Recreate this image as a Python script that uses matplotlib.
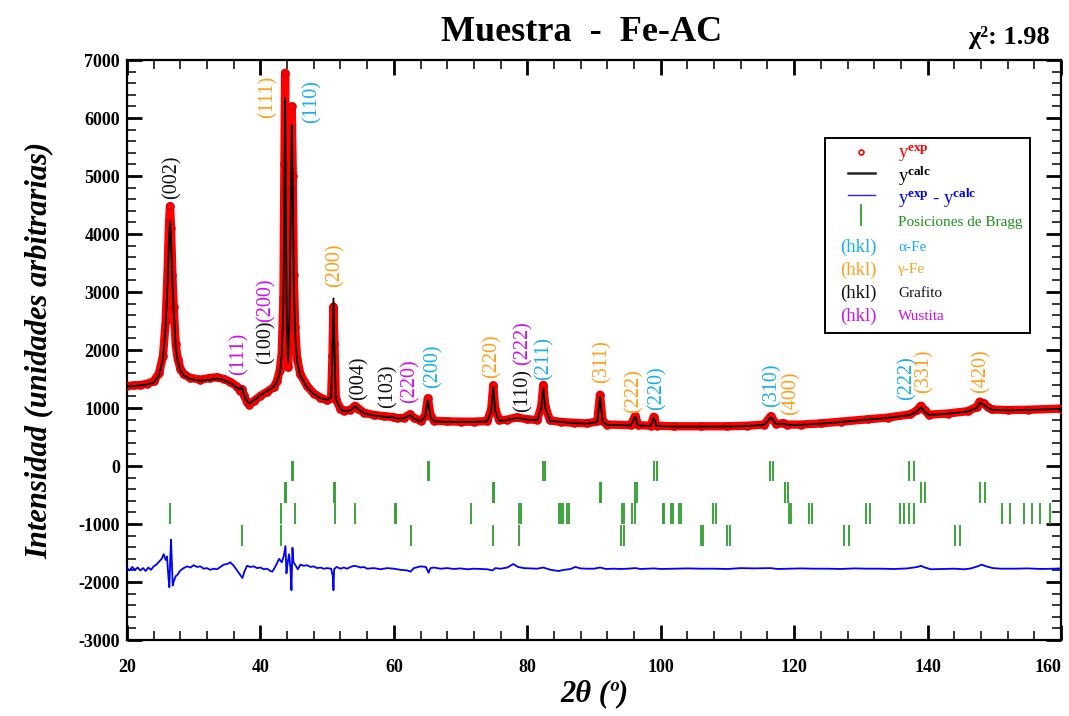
import matplotlib
matplotlib.use("Agg")
import matplotlib.pyplot as plt
from matplotlib.ticker import MultipleLocator
from matplotlib.lines import Line2D
from matplotlib.patches import Rectangle

plt.rcParams['font.family'] = ['Liberation Serif', 'DejaVu Serif']
plt.rcParams['mathtext.fontset'] = 'custom'
plt.rcParams['mathtext.rm'] = 'Liberation Serif'
plt.rcParams['mathtext.it'] = 'Liberation Serif:italic'
plt.rcParams['mathtext.bf'] = 'Liberation Serif:bold'
plt.rcParams['axes.unicode_minus'] = False

# ---------------- data ----------------
two_theta = [20.0, 21.0, 22.0, 23.0, 24.0, 24.8, 25.4, 25.8, 26.1, 26.3,
             26.45, 26.6, 26.8, 27.0, 27.3, 27.6, 28.0, 28.5, 29.5, 31.0,
             32.5, 33.5, 34.5, 35.5, 36.5, 37.0, 37.2, 37.5, 38.0, 38.3,
             39.0, 40.0, 41.0, 42.0, 42.5, 42.9, 43.2, 43.45, 43.6, 43.7,
             43.8, 43.95, 44.15, 44.35, 44.55, 44.7, 44.85, 45.0, 45.2, 45.5,
             46.0, 47.0, 48.0, 49.0, 50.0, 50.6, 50.8, 50.95, 51.1, 51.3,
             52.0, 52.5, 53.5, 54.2, 54.7, 55.5, 57.0, 58.5, 59.8, 60.5,
             61.5, 62.4, 63.0, 64.0, 64.7, 65.1, 65.5, 66.0, 68.0, 70.0,
             72.0, 74.0, 74.6, 74.9, 75.2, 75.8, 77.0, 78.4, 80.0, 81.5,
             82.1, 82.4, 82.7, 83.4, 85.0, 87.0, 89.0, 90.5, 90.9, 91.3,
             92.0, 95.5, 96.2, 96.6, 98.5, 98.95, 99.4, 102.0, 106.0, 110.0,
             113.0, 115.5, 116.5, 117.3, 118.4, 119.0, 121.0, 124.0, 127.0, 131.0,
             134.0, 137.4, 138.4, 139.0, 139.6, 140.2, 143.0, 146.0, 147.4, 147.8,
             148.4, 149.0, 149.6, 152.0, 155.0, 160.0]

y_calc = [1370, 1380, 1390, 1405, 1440, 1560, 1850, 2400, 3200, 3900,
          4213, 3900, 3200, 2700, 2050, 1800, 1650, 1560, 1500, 1470,
          1490, 1510, 1480, 1430, 1350, 1320, 1360, 1250, 1110, 1080,
          1130, 1220, 1290, 1370, 1450, 1600, 1900, 2800, 4800, 6340,
          4500, 2500, 1800, 2600, 4500, 5880, 4800, 3200, 2300, 1800,
          1550, 1360, 1240, 1170, 1140, 1180, 2000, 2890, 2000, 1150,
          980, 940, 960, 1030, 980, 910, 870, 850, 840, 820,
          820, 880, 820, 770, 850, 1140, 850, 770, 760, 760,
          760, 770, 950, 1360, 950, 780, 790, 830, 800, 790,
          1000, 1340, 1000, 780, 760, 740, 730, 760, 1200, 760,
          710, 700, 850, 700, 690, 830, 690, 680, 680, 680,
          690, 710, 840, 720, 730, 710, 710, 730, 760, 800,
          830, 880, 940, 1010, 940, 880, 900, 940, 1000, 1090,
          1060, 1010, 970, 960, 965, 985]

y_exp = [1380, 1390, 1395, 1420, 1460, 1600, 1900, 2500, 3400, 4200,
         4480, 4100, 3300, 2750, 2100, 1850, 1680, 1580, 1520, 1490,
         1520, 1530, 1500, 1450, 1370, 1300, 1330, 1230, 1100, 1060,
         1120, 1210, 1280, 1360, 1470, 1650, 1950, 2900, 5200, 6780,
         4700, 2400, 1700, 2500, 4800, 6200, 5000, 3300, 2400, 1850,
         1580, 1380, 1250, 1180, 1130, 1170, 1900, 2750, 2100, 1150,
         990, 950, 970, 1040, 990, 920, 880, 860, 845, 825,
         830, 890, 830, 780, 870, 1170, 870, 780, 770, 765,
         765, 775, 980, 1390, 980, 790, 800, 840, 805, 795,
         1030, 1400, 1030, 790, 760, 745, 735, 770, 1230, 770,
         715, 705, 870, 705, 695, 850, 695, 685, 685, 685,
         695, 715, 860, 725, 740, 715, 715, 735, 765, 805,
         835, 890, 960, 1040, 960, 885, 905, 945, 1020, 1110,
         1080, 1020, 975, 965, 970, 990]

diff_two_theta = [20.0, 20.4, 20.8, 21.2, 21.6, 22.0, 22.4, 22.8, 23.2, 23.6,
                  24.0, 24.4, 24.8, 25.2, 25.5, 25.8, 26.0, 26.2, 26.35, 26.5,
                  26.6, 26.7, 26.85, 27.0, 27.3, 27.6, 28.0, 28.5, 29.0, 29.5,
                  30.0, 30.5, 31.0, 31.5, 32.0, 32.5, 33.0, 33.5, 34.0, 34.5,
                  35.0, 35.5, 36.0, 36.5, 37.0, 37.3, 37.6, 38.0, 38.5, 39.0,
                  39.5, 40.0, 40.5, 41.0, 41.5, 41.8, 42.3, 42.8, 43.2, 43.5,
                  43.75, 43.9, 44.1, 44.3, 44.5, 44.65, 44.8, 44.95, 45.2, 45.6,
                  46.0, 46.5, 47.0, 47.5, 48.0, 48.5, 49.0, 49.5, 50.0, 50.6,
                  50.85, 50.95, 51.05, 51.4, 52.0, 52.5, 53.0, 53.5, 54.0, 54.5,
                  55.0, 55.5, 56.0, 57.0, 58.0, 59.0, 60.0, 61.0, 62.0, 62.5,
                  63.0, 64.0, 64.8, 65.2, 65.5, 66.0, 67.0, 68.0, 69.0, 70.0,
                  71.0, 72.0, 73.0, 74.0, 74.8, 75.2, 76.0, 77.0, 77.9, 78.6,
                  79.5, 80.5, 81.5, 82.4, 83.5, 84.7, 85.5, 86.5, 87.2, 88.0,
                  89.0, 90.0, 90.9, 91.8, 93.0, 94.0, 95.0, 96.2, 97.0, 98.0,
                  99.0, 100.0, 102.0, 104.0, 106.0, 108.0, 110.0, 112.0, 114.0, 116.5,
                  117.5, 119.0, 121.0, 123.0, 125.0, 127.0, 129.0, 131.0, 133.0, 135.0,
                  137.0, 138.5, 139.0, 139.6, 140.5, 142.0, 144.0, 145.5, 146.5, 147.5,
                  148.1, 148.8, 149.8, 151.0, 153.0, 155.0, 157.0, 159.0, 160.0]

diff_y = [-1760, -1800, -1740, -1790, -1750, -1800, -1760, -1810, -1750, -1790,
          -1730, -1700, -1650, -1600, -1520, -1620, -1560, -1900, -2090, -1550,
          -1270, -1600, -2060, -1990, -1900, -1870, -1800, -1760, -1730, -1750,
          -1710, -1740, -1730, -1770, -1760, -1790, -1770, -1780, -1740, -1700,
          -1690, -1660, -1720, -1800, -1880, -1930, -1820, -1720, -1740, -1730,
          -1760, -1750, -1780, -1770, -1810, -1820, -1720, -1600, -1660, -1550,
          -1380, -1850, -1650, -1520, -1760, -2140, -1410, -1660, -1700, -1780,
          -1700, -1720, -1710, -1740, -1730, -1760, -1750, -1770, -1760, -1770,
          -1900, -2140, -1780, -1740, -1770, -1750, -1770, -1740, -1720, -1730,
          -1750, -1740, -1770, -1760, -1780, -1760, -1770, -1790, -1800, -1820,
          -1760, -1730, -1740, -1840, -1760, -1750, -1770, -1760, -1775, -1765,
          -1780, -1770, -1775, -1780, -1800, -1760, -1770, -1750, -1690, -1740,
          -1760, -1765, -1770, -1750, -1790, -1810, -1790, -1775, -1740, -1765,
          -1770, -1770, -1750, -1775, -1770, -1775, -1770, -1760, -1775, -1770,
          -1765, -1775, -1770, -1765, -1770, -1770, -1775, -1760, -1765, -1760,
          -1775, -1770, -1765, -1770, -1770, -1775, -1765, -1770, -1770, -1775,
          -1765, -1740, -1720, -1750, -1780, -1775, -1770, -1780, -1765, -1730,
          -1700, -1730, -1760, -1770, -1770, -1765, -1775, -1770, -1765]

# Bragg positions (one row per phase)
bragg_alpha_fe = [44.7, 44.85, 65.1, 65.3, 82.33, 82.67, 99.06, 99.41,
                  116.4, 116.9, 137.2, 137.9]
bragg_gamma_fe = [43.7, 43.85, 51.0, 51.15, 74.8, 75.0, 90.9, 91.1, 96.2, 96.4,
                  118.6, 119.05, 139.0, 139.6, 147.8, 148.6]
bragg_grafito = [26.45, 43.1, 45.2, 51.2, 54.2, 60.1, 60.3, 71.5, 78.8, 79.0,
                 84.8, 85.0, 85.3, 85.9, 86.3, 94.25, 94.56, 95.7, 96.1,
                 100.3, 100.5, 101.5, 101.8, 102.7, 103.0, 107.9, 108.3,
                 119.2, 119.5, 122.3, 122.7, 130.7, 131.4, 135.9, 136.5,
                 137.2, 137.9, 151.1, 152.4, 154.4, 155.7, 156.9, 158.3]
bragg_wustita = [37.2, 43.1, 62.5, 74.9, 78.8, 94.1, 94.5, 106.0, 106.3,
                 110.0, 110.4, 127.5, 128.2, 144.1, 144.9]

# Peak labels: (text, phase, 2theta, intensity at label base)
peak_labels = [
    ("(002)", "graf", 26.75, 4600),
    ("(111)", "gam", 41.1, 6000),
    ("(110)", "alp", 47.8, 5910),
    ("(111)", "wus", 36.8, 1570),
    ("(100)", "graf", 40.9, 1760),
    ("(200)", "wus", 40.9, 2480),
    ("(200)", "gam", 51.25, 3090),
    ("(004)", "graf", 54.8, 1140),
    ("(103)", "graf", 59.05, 1000),
    ("(220)", "wus", 62.4, 1090),
    ("(200)", "alp", 65.8, 1345),
    ("(220)", "gam", 74.7, 1517),
    ("(110)", "graf", 79.3, 930),
    ("(222)", "wus", 79.3, 1740),
    ("(211)", "alp", 82.5, 1483),
    ("(311)", "gam", 91.15, 1430),
    ("(222)", "gam", 96.0, 914),
    ("(220)", "alp", 99.5, 966),
    ("(310)", "alp", 116.75, 1017),
    ("(400)", "gam", 119.5, 880),
    ("(222)", "alp", 136.9, 1138),
    ("(331)", "gam", 139.5, 1260),
    ("(420)", "gam", 148.0, 1260),
]

phase_colors = {"alp": "#1AAEEA", "gam": "#FF9F1A", "graf": "#111111", "wus": "#CC11EE"}
phase_names = [("alp", "\u03b1-Fe"), ("gam", "\u03b3-Fe"), ("graf", "Grafito"), ("wus", "Wustita")]

x_ticks = [20, 40, 60, 80, 100, 120, 140, 160]
y_ticks = [-3000, -2000, -1000, 0, 1000, 2000, 3000, 4000, 5000, 6000, 7000]

# ---------------- figure ----------------
fig = plt.figure(figsize=(10.69, 7.16), dpi=100)
ax = fig.add_axes([0.1188, 0.1061, 0.8737, 0.8101])

red = "#FF0000"
ax.plot(two_theta, y_exp, color=red, lw=6, solid_joinstyle='round', zorder=2)
ax.plot(two_theta, y_exp, linestyle='none', marker='o', ms=5, mfc='none',
        mec='#E00000', mew=1.2, zorder=3)
ax.plot(two_theta, y_calc, color='black', lw=1.3, zorder=4)
ax.plot(diff_two_theta, diff_y, color='#0000FF', lw=1.3, zorder=4)

bragg_green = "#2E9E2E"
rows = [(bragg_alpha_fe, 90, -260), (bragg_gamma_fe, -275, -640),
        (bragg_grafito, -640, -1000), (bragg_wustita, -1015, -1380)]
for pos, ytop, ybot in rows:
    ax.vlines(pos, ybot, ytop, color=bragg_green, lw=1.3, zorder=3)

for txt, ph, x, y in peak_labels:
    ax.text(x, y, txt, rotation=90, ha='center', va='bottom',
            color=phase_colors[ph], fontsize=14.5)

ax.set_xlim(20, 160)
ax.set_ylim(-3000, 7000)
ax.set_xticks(x_ticks)
ax.set_yticks(y_ticks)
ax.xaxis.set_minor_locator(MultipleLocator(4))
ax.yaxis.set_minor_locator(MultipleLocator(200))
ax.tick_params(which='major', direction='in', length=11, width=2.0,
               top=True, right=True, labelsize=13)
ax.tick_params(which='minor', direction='in', length=6.5, width=1.1,
               top=True, right=True)
ax.tick_params(axis='x', which='major', pad=14)
ax.tick_params(axis='y', which='major', pad=5)
for lab in ax.get_xticklabels() + ax.get_yticklabels():
    lab.set_fontweight('bold')
ax.get_xticklabels()[-1].set_ha('right')
for sp in ax.spines.values():
    sp.set_linewidth(1.6)

ax.set_xlabel("2\u03b8 (\u00ba)", fontsize=22, fontweight='bold', fontstyle='italic',
              labelpad=2)
ax.set_ylabel("Intensidad (unidades arbitrarias)", fontsize=22, fontweight='bold',
              fontstyle='italic', labelpad=18)

fig.text(0.5444, 1 - 41 / 716, "Muestra  -  Fe-AC", ha='center', va='baseline',
         fontsize=26, fontweight='bold')
fig.text(0.982, 1 - 44 / 716, "\u03c7\u00b2: 1.98", ha='right', va='baseline',
         fontsize=19, fontweight='bold')

# ---------------- legend (drawn by hand in axes coordinates) ----------------
T = ax.transAxes
ax.add_patch(Rectangle((0.747, 0.5293), 0.220, 0.3362, transform=T,
                       facecolor='white', edgecolor='black', lw=1.4, zorder=6))
tx = 0.8255
ax.add_line(Line2D([0.786], [0.8414], transform=T, marker='o', ms=3.5, mfc='white',
                   mec=red, mew=1.2, zorder=7))
ax.text(tx, 0.8380, r"$\mathrm{y^{\mathbf{exp}}}$", transform=T, color=red,
        fontsize=13.5, va='center', zorder=7)
ax.add_line(Line2D([0.772, 0.801], [0.805, 0.805], transform=T, color='#222222',
                   lw=1.8, zorder=7))
ax.text(tx, 0.8000, r"$\mathrm{y^{\mathbf{calc}}}$", transform=T, color='black',
        fontsize=13.5, va='center', zorder=7)
ax.add_line(Line2D([0.772, 0.801], [0.767, 0.767], transform=T, color='#2222FF',
                   lw=1.0, zorder=7))
ax.text(tx, 0.7610, r"$\mathrm{y^{\mathbf{exp}}}$ - $\mathrm{y^{\mathbf{calc}}}$",
        transform=T, color='#0000FF', fontsize=13.5, va='center', zorder=7)
ax.add_line(Line2D([0.786, 0.786], [0.716, 0.750], transform=T, color=bragg_green,
                   lw=1.3, zorder=7))
ax.text(tx, 0.7207, "Posiciones de Bragg", transform=T, color='#1E8F1E',
        fontsize=11, va='center', zorder=7)
ys = [0.6776, 0.638, 0.598, 0.5586]
for (ph, name), yy in zip(phase_names, ys):
    ax.text(0.7827, yy, "(hkl)", transform=T, color=phase_colors[ph],
            fontsize=13.5, ha='center', va='center', zorder=7)
    ax.text(tx, yy, name, transform=T, color=phase_colors[ph],
            fontsize=11, va='center', zorder=7)

fig.savefig("out.png", dpi=100)
